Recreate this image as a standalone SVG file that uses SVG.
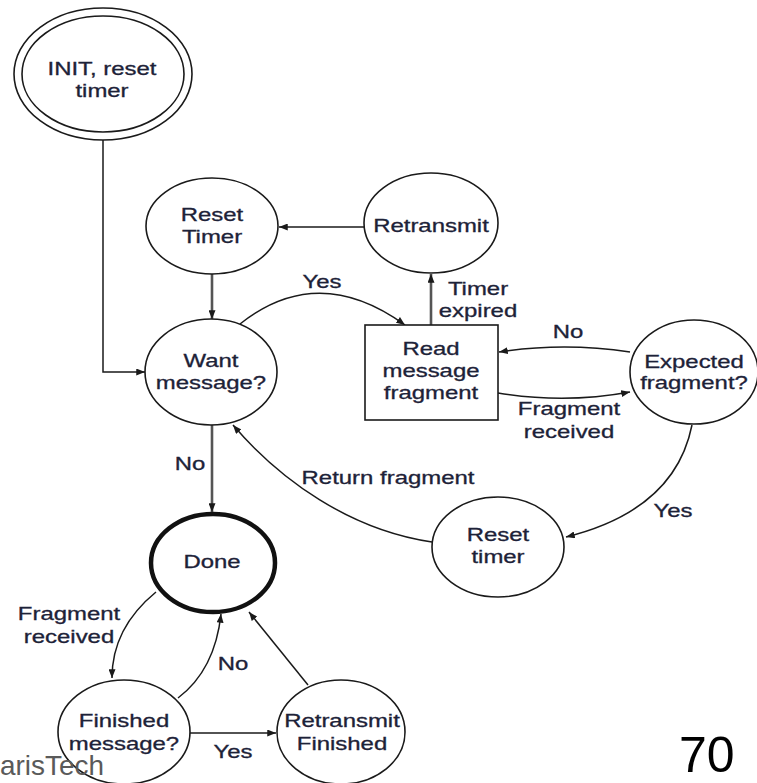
<svg xmlns="http://www.w3.org/2000/svg" width="757" height="783" viewBox="0 0 757 783">
<style>
.n{fill:#fff;stroke:#1a1a1a;stroke-width:1.6}
.t{font-family:"Liberation Sans",Arial,sans-serif;font-size:18px;fill:#1d2238;stroke:#1d2238;stroke-width:0.3;text-anchor:middle}
.e{fill:none;stroke:#1a1a1a;stroke-width:1.5}
.g{fill:none;stroke:#555;stroke-width:2.6}
</style>
<defs>
<marker id="ah" viewBox="0 0 10 8" refX="10" refY="4" markerWidth="9" markerHeight="7" markerUnits="userSpaceOnUse" orient="auto">
<path d="M0,0 L10,4 L0,8 z" fill="#1a1a1a"/>
</marker>
</defs>
<rect width="757" height="783" fill="#fff"/>

<g id="edges">
<path class="e" d="M103,140 V372 H145" marker-end="url(#ah)"/>
<path class="e" d="M364,227 H279" marker-end="url(#ah)"/>
<path class="g" d="M212,274 V319" marker-end="url(#ah)"/>
<path class="e" d="M240,324 Q318,262 405,325" marker-end="url(#ah)"/>
<path class="g" d="M431,325 V274" marker-end="url(#ah)"/>
<path class="e" d="M630,352 Q564,342 499,352" marker-end="url(#ah)"/>
<path class="e" d="M498,393 Q565,404 630,392" marker-end="url(#ah)"/>
<path class="e" d="M692,425 Q675,510 566,537" marker-end="url(#ah)"/>
<path class="e" d="M432,542 C350,530 280,480 233,425" marker-end="url(#ah)"/>
<path class="g" d="M212,425 V512" marker-end="url(#ah)"/>
<path class="e" d="M156,592 Q112,628 112,678" marker-end="url(#ah)"/>
<path class="e" d="M178,698 Q215,670 221,614" marker-end="url(#ah)"/>
<path class="e" d="M190,733 H276" marker-end="url(#ah)"/>
<path class="e" d="M308,685 L249,612" marker-end="url(#ah)"/>
<text class="t" transform="translate(322,0) scale(1.33,1)" y="288">Yes</text>
<text class="t" transform="translate(478,0) scale(1.33,1)"><tspan x="0" y="295">Timer</tspan><tspan x="0" y="317">expired</tspan></text>
<text class="t" transform="translate(568,0) scale(1.33,1)" y="338">No</text>
<text class="t" transform="translate(569,0) scale(1.33,1)"><tspan x="0" y="415">Fragment</tspan><tspan x="0" y="438">received</tspan></text>
<text class="t" transform="translate(673,0) scale(1.33,1)" y="517">Yes</text>
<text class="t" transform="translate(388,0) scale(1.33,1)" y="484">Return fragment</text>
<text class="t" transform="translate(190,0) scale(1.33,1)" y="470">No</text>
<text class="t" transform="translate(69,0) scale(1.33,1)"><tspan x="0" y="620">Fragment</tspan><tspan x="0" y="643">received</tspan></text>
<text class="t" transform="translate(233,0) scale(1.33,1)" y="670">No</text>
<text class="t" transform="translate(233,0) scale(1.33,1)" y="758">Yes</text>
</g>

<g id="init">
<ellipse class="n" cx="103" cy="74" rx="89" ry="66"/>
<ellipse class="n" cx="103" cy="74" rx="81" ry="58"/>
<text class="t" transform="translate(102,0) scale(1.33,1)"><tspan x="0" y="75">INIT, reset</tspan><tspan x="0" y="97">timer</tspan></text>
</g>

<g id="reset-timer-top">
<ellipse class="n" cx="212" cy="226" rx="66" ry="48"/>
<text class="t" transform="translate(212,0) scale(1.33,1)"><tspan x="0" y="221">Reset</tspan><tspan x="0" y="243">Timer</tspan></text>
</g>

<g id="retransmit">
<ellipse class="n" cx="431" cy="223" rx="67" ry="50"/>
<text class="t" transform="translate(431,0) scale(1.33,1)" y="232">Retransmit</text>
</g>

<g id="want-message">
<ellipse class="n" cx="211" cy="372" rx="66" ry="53"/>
<text class="t" transform="translate(211,0) scale(1.33,1)"><tspan x="0" y="367">Want</tspan><tspan x="0" y="389">message?</tspan></text>
</g>

<g id="read-fragment">
<rect class="n" x="365" y="325" width="133" height="95"/>
<text class="t" transform="translate(431,0) scale(1.33,1)"><tspan x="0" y="355">Read</tspan><tspan x="0" y="377">message</tspan><tspan x="0" y="399">fragment</tspan></text>
</g>

<g id="expected-fragment">
<ellipse class="n" cx="694" cy="372" rx="64" ry="52"/>
<text class="t" transform="translate(694,0) scale(1.33,1)"><tspan x="0" y="368">Expected</tspan><tspan x="0" y="389">fragment?</tspan></text>
</g>

<g id="reset-timer-bottom">
<ellipse class="n" cx="498" cy="547" rx="66" ry="50"/>
<text class="t" transform="translate(498,0) scale(1.33,1)"><tspan x="0" y="541">Reset</tspan><tspan x="0" y="563">timer</tspan></text>
</g>

<g id="done">
<ellipse cx="213" cy="563" rx="62" ry="49" fill="#fff" stroke="#111" stroke-width="4.5"/>
<text class="t" transform="translate(212,0) scale(1.33,1)" y="568">Done</text>
</g>

<g id="finished-message">
<ellipse class="n" cx="124" cy="732" rx="66" ry="52"/>
<text class="t" transform="translate(124,0) scale(1.33,1)"><tspan x="0" y="727">Finished</tspan><tspan x="0" y="750">message?</tspan></text>
</g>

<g id="retransmit-finished">
<ellipse class="n" cx="341" cy="732" rx="64" ry="52"/>
<text class="t" transform="translate(342,0) scale(1.33,1)"><tspan x="0" y="727">Retransmit</tspan><tspan x="0" y="750">Finished</tspan></text>
</g>

<text x="0" y="775" font-family="Liberation Sans, Arial, sans-serif" font-size="28" fill="#5a5a5a" textLength="104" lengthAdjust="spacingAndGlyphs">arisTech</text>
<text x="679" y="772" font-family="Liberation Sans, Arial, sans-serif" font-size="50" fill="#000">70</text>
</svg>
